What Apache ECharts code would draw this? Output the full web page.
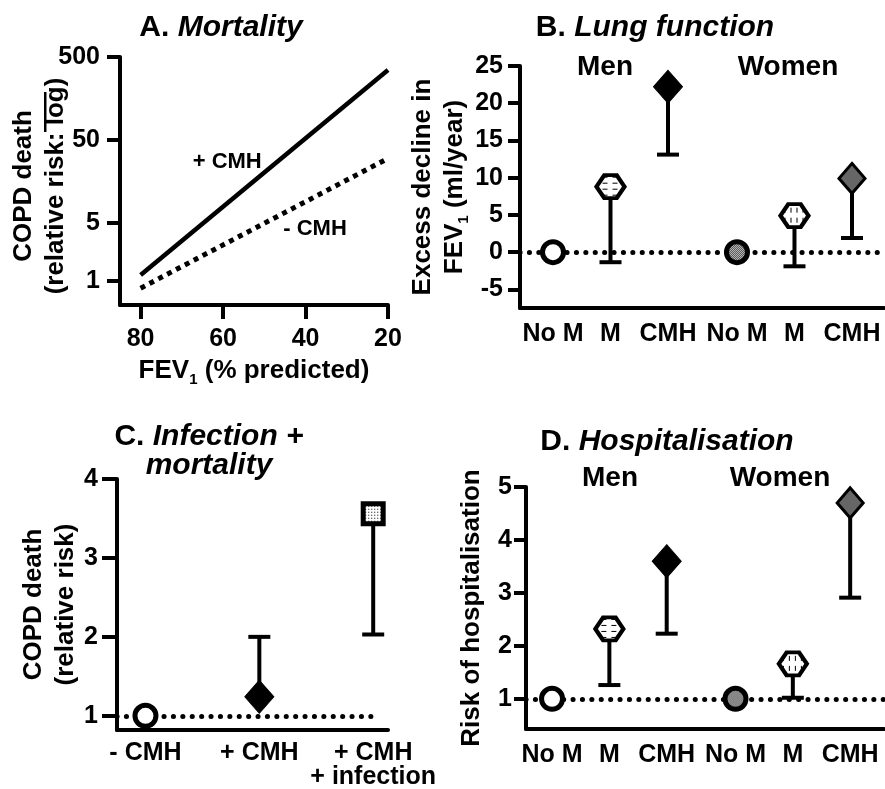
<!DOCTYPE html>
<html>
<head>
<meta charset="utf-8">
<script src="https://cdn.jsdelivr.net/npm/echarts@6/dist/echarts.min.js"></script>
<style>
  html, body { margin: 0; padding: 0; background: #fff; }
  #chart { width: 885px; height: 789px; }
</style>
</head>
<body>
<div id="chart"></div>
<script>
// A. mortality: relative risk (log) against FEV1 % predicted
var fevTicks = [80, 60, 40, 20];
var riskTicksA = [1, 5, 50, 500];
var fevEnds = [80, 20];
var withCMH = [1.18, 348];
var withoutCMH = [0.82, 30];
var lineNotes = ['+ CMH', '- CMH'];
var noteFev = [59, 37.7];
var noteRisk = [27.2, 4.24];

// B. lung function: excess FEV1 decline (ml/year)
var groupCats = ['No M', 'M', 'CMH', 'No M', 'M', 'CMH'];
var declineTicks = [-5, 0, 5, 10, 15, 20, 25];
var fevDecline = [0, 8.8, 22.2, 0, 4.9, 9.9];
var fevDeclineCI = [null, -1.35, 13.1, null, -1.9, 1.9];

// C. infection + mortality
var infectCats = ['- CMH', '+ CMH', '+ CMH\n+ infection'];
var infectTicks = [1, 2, 3, 4];
var infectRisk = [1, 1.24, 3.56];
var infectCI = [null, 2.0, 2.03];

// D. hospitalisation
var hospTicks = [1, 2, 3, 4, 5];
var hospRisk = [1, 2.32, 3.6, 1, 1.66, 4.7];
var hospCI = [null, 1.26, 2.23, null, 1.02, 2.91];

var FONT = 'Liberation Sans, Arial, sans-serif';

// men and women groups sit a little apart on the x axis
var groupGap = 0.2;
var groupPos = groupCats.map(function (c, i) { return i + (i >= 3 ? groupGap : 0); });
var infectPos = infectCats.map(function (c, i) { return i; });

// symbols are drawn at unit size and scaled up, so the fill pattern is scaled back down
function pattern(w, h, size, draw) {
    var c = document.createElement('canvas');
    c.width = w;
    c.height = h;
    var ctx = c.getContext('2d');
    ctx.fillStyle = '#fff';
    ctx.fillRect(0, 0, w, h);
    ctx.fillStyle = '#000';
    draw(ctx);
    return { image: c, repeat: 'repeat', scaleX: 2 / size[0], scaleY: 2 / size[1] };
}

var hexPath = 'path://M0,50 L28,0 L72,0 L100,50 L72,100 L28,100 Z';
var hexSize = [28, 23];
var circleSize = [21, 21];
var squareSize = [20, 20];

var hDash = pattern(10, 6, hexSize, function (ctx) { ctx.fillRect(2, 2, 5, 1); });
var vDash = pattern(6, 10, hexSize, function (ctx) { ctx.fillRect(2, 2, 1, 5); });
var greyDots = pattern(2, 2, circleSize, function (ctx) {
    ctx.fillStyle = '#ccc';
    ctx.fillRect(0, 0, 2, 2);
    ctx.fillStyle = '#444';
    ctx.fillRect(0, 0, 1, 1);
    ctx.fillRect(1, 1, 1, 1);
});
var fineDots = pattern(3, 3, squareSize, function (ctx) { ctx.fillRect(1, 1, 1, 1); });

// marker look for each of the six groups (men, women)
var groupMarks = [
    { symbol: 'circle', symbolSize: circleSize, itemStyle: { color: '#fff', borderColor: '#000', borderWidth: 5 } },
    { symbol: hexPath, symbolSize: hexSize, itemStyle: { color: hDash, borderColor: '#000', borderWidth: 4 } },
    { symbol: 'diamond', symbolSize: [29, 33], itemStyle: { color: '#000', borderColor: '#000', borderWidth: 1 } },
    { symbol: 'circle', symbolSize: circleSize, itemStyle: { color: greyDots, borderColor: '#000', borderWidth: 5 } },
    { symbol: hexPath, symbolSize: hexSize, itemStyle: { color: vDash, borderColor: '#000', borderWidth: 4 } },
    { symbol: 'diamond', symbolSize: [26, 30], itemStyle: { color: '#666', borderColor: '#000', borderWidth: 3 } }
];
var infectMarks = [groupMarks[0], groupMarks[2],
    { symbol: 'rect', symbolSize: squareSize, itemStyle: { color: fineDots, borderColor: '#000', borderWidth: 5 } }];

var tickFont = { color: '#000', fontFamily: FONT, fontWeight: 'bold', fontSize: 25 };
var nameFont = {
    color: '#000', fontFamily: FONT, fontWeight: 'bold', fontSize: 26, lineHeight: 32,
    rich: { sub: { fontFamily: FONT, fontWeight: 'bold', fontSize: 15, verticalAlign: 'bottom', padding: [10, 0, 0, 0] } }
};
var axisLine = { show: true, onZero: false, lineStyle: { color: '#000', width: 4 } };

function markData(xs, vals, marks) {
    return vals.map(function (v, i) {
        var m = marks[i];
        return {
            value: [xs[i], v], symbol: m.symbol, symbolSize: m.symbolSize,
            itemStyle: Object.assign({ opacity: 1 }, m.itemStyle)
        };
    });
}

function errorBars(xi, xs, vals, ends) {
    var data = [];
    vals.forEach(function (v, i) {
        if (ends[i] != null) data.push([xs[i], v, ends[i]]);
    });
    return {
        type: 'custom', xAxisIndex: xi, yAxisIndex: xi, z: 3, data: data,
        renderItem: function (params, api) {
            var p0 = api.coord([api.value(0), api.value(1)]);
            var p1 = api.coord([api.value(0), api.value(2)]);
            var st = { stroke: '#000', lineWidth: 4 };
            return {
                type: 'group', children: [
                    { type: 'line', shape: { x1: p0[0], y1: p0[1], x2: p1[0], y2: p1[1] }, style: st },
                    { type: 'line', shape: { x1: p1[0] - 11, y1: p1[1], x2: p1[0] + 11, y2: p1[1] }, style: st }
                ]
            };
        }
    };
}

var dotted = { color: '#000', width: 5, type: [0.1, 9.3], cap: 'round', opacity: 1 };

function refLine(data) {
    return { silent: true, symbol: 'none', label: { show: false }, lineStyle: dotted, data: data };
}

function titleText(x, y, text, size) {
    return {
        type: 'text', x: x, y: y,
        style: {
            text: text, align: 'center', verticalAlign: 'middle', fill: '#000',
            font: 'bold ' + size + 'px ' + FONT,
            rich: { i: { fontFamily: FONT, fontWeight: 'bold', fontStyle: 'italic', fontSize: size } }
        }
    };
}

function catLabels(xs, names, margin) {
    return Object.assign({
        customValues: xs, margin: margin, lineHeight: 24,
        formatter: function (v) {
            var best = 0;
            xs.forEach(function (x, i) { if (Math.abs(x - v) < Math.abs(xs[best] - v)) best = i; });
            return names[best];
        }
    }, tickFont);
}

var log10 = function (v) { return Math.log10(v); };

var myChart = echarts.init(document.getElementById('chart'));
var option = {
    animation: false,
    backgroundColor: '#fff',
    grid: [
        { left: 120, top: 57, width: 268, height: 248, outerBoundsMode: 'none' },
        { left: 520, top: 66, width: 364, height: 242, outerBoundsMode: 'none' },
        { left: 117, top: 479, width: 271, height: 251, outerBoundsMode: 'none' },
        { left: 526, top: 487, width: 358, height: 242, outerBoundsMode: 'none' }
    ],
    xAxis: [
        {
            gridIndex: 0, type: 'value', inverse: true, min: 20, max: 85,
            axisLine: axisLine, splitLine: { show: false },
            axisTick: { show: true, customValues: fevTicks, length: 14, lineStyle: { color: '#000', width: 4 } },
            axisLabel: Object.assign({ customValues: fevTicks, margin: 22 }, tickFont),
            name: 'FEV{sub|1} (% predicted)', nameLocation: 'middle', nameGap: 50,
            nameMoveOverlap: false, nameTextStyle: nameFont
        },
        {
            gridIndex: 1, type: 'value', min: -0.574, max: 5.757,
            axisLine: axisLine, splitLine: { show: false }, axisTick: { show: false },
            axisLabel: catLabels(groupPos, groupCats, 14)
        },
        {
            gridIndex: 2, type: 'value', min: -0.25, max: 2.13,
            axisLine: axisLine, splitLine: { show: false }, axisTick: { show: false },
            axisLabel: catLabels(infectPos, infectCats, 11)
        },
        {
            gridIndex: 3, type: 'value', min: -0.454, max: 5.79,
            axisLine: axisLine, splitLine: { show: false }, axisTick: { show: false },
            axisLabel: catLabels(groupPos, groupCats, 14)
        }
    ],
    yAxis: [
        {
            gridIndex: 0, type: 'value', min: -0.289, max: log10(500),
            axisLine: axisLine, splitLine: { show: false },
            axisTick: { show: true, customValues: riskTicksA.map(log10), length: 13, lineStyle: { color: '#000', width: 4 } },
            axisLabel: Object.assign({
                customValues: riskTicksA.map(log10), margin: 20,
                formatter: function (v) { return Math.round(Math.pow(10, v)); }
            }, tickFont),
            name: 'COPD death\n(relative risk: log)', nameLocation: 'middle', nameGap: 48,
            nameMoveOverlap: false, nameTextStyle: Object.assign({}, nameFont, { padding: [0, 10, 0, 0] })
        },
        {
            gridIndex: 1, type: 'value', min: -7.5, max: 25,
            axisLine: axisLine, splitLine: { show: false },
            axisTick: { show: true, customValues: declineTicks, length: 12, lineStyle: { color: '#000', width: 4 } },
            axisLabel: Object.assign({ customValues: declineTicks, margin: 17 }, tickFont),
            name: 'Excess decline in\nFEV{sub|1} (ml/year)', nameLocation: 'middle', nameGap: 49,
            nameMoveOverlap: false, nameTextStyle: nameFont
        },
        {
            gridIndex: 2, type: 'value', min: 0.82, max: 4,
            axisLine: axisLine, splitLine: { show: false },
            axisTick: { show: true, customValues: infectTicks, length: 15, lineStyle: { color: '#000', width: 4 } },
            axisLabel: Object.assign({ customValues: infectTicks, margin: 19 }, tickFont),
            name: 'COPD death\n(relative risk)', nameLocation: 'middle', nameGap: 35,
            nameMoveOverlap: false, nameTextStyle: nameFont
        },
        {
            gridIndex: 3, type: 'value', min: 0.43, max: 5,
            axisLine: axisLine, splitLine: { show: false },
            axisTick: { show: true, customValues: hospTicks, length: 12, lineStyle: { color: '#000', width: 4 } },
            axisLabel: Object.assign({ customValues: hospTicks, margin: 14 }, tickFont),
            name: 'Risk of hospitalisation', nameLocation: 'middle', nameGap: 38,
            nameMoveOverlap: false, nameTextStyle: nameFont
        }
    ],
    graphic: [
        titleText(221, 28, 'A. {i|Mortality}', 30),
        titleText(655, 28, 'B. {i|Lung function}', 30),
        titleText(605, 67, 'Men', 28),
        titleText(788, 67, 'Women', 28),
        titleText(209, 437, 'C. {i|Infection +}', 30),
        titleText(209, 466, '{i|mortality}', 30),
        titleText(667, 442, 'D. {i|Hospitalisation}', 30),
        titleText(610, 478, 'Men', 28),
        titleText(780, 478, 'Women', 28),
        // underline under "log" in the rotated axis name of panel A
        { type: 'rect', shape: { x: 44, y: 92, width: 2.5, height: 40 }, style: { fill: '#000' } }
    ],
    series: [
        {
            type: 'line', xAxisIndex: 0, yAxisIndex: 0, showSymbol: false,
            data: fevEnds.map(function (x, i) { return [x, log10(withCMH[i])]; }),
            lineStyle: { color: '#000', width: 4.5 }
        },
        {
            type: 'line', xAxisIndex: 0, yAxisIndex: 0, showSymbol: false,
            data: fevEnds.map(function (x, i) { return [x, log10(withoutCMH[i])]; }),
            lineStyle: { color: '#000', width: 5, type: [5, 5] }
        },
        {
            type: 'scatter', xAxisIndex: 0, yAxisIndex: 0, symbolSize: 1,
            itemStyle: { color: 'rgba(0,0,0,0)', opacity: 1 },
            data: lineNotes.map(function (t, i) { return { name: t, value: [noteFev[i], log10(noteRisk[i])] }; }),
            label: {
                show: true, position: 'inside', formatter: '{b}', color: '#000', opacity: 1,
                fontFamily: FONT, fontWeight: 'bold', fontSize: 22
            }
        },
        errorBars(1, groupPos, fevDecline, fevDeclineCI),
        {
            type: 'scatter', xAxisIndex: 1, yAxisIndex: 1, z: 5,
            data: markData(groupPos, fevDecline, groupMarks),
            markLine: refLine([{ yAxis: 0 }])
        },
        errorBars(2, infectPos, infectRisk, infectCI),
        {
            type: 'scatter', xAxisIndex: 2, yAxisIndex: 2, z: 5,
            data: markData(infectPos, infectRisk, infectMarks),
            markLine: refLine([[{ coord: [-0.25, 1] }, { coord: [2, 1] }]])
        },
        errorBars(3, groupPos, hospRisk, hospCI),
        {
            type: 'scatter', xAxisIndex: 3, yAxisIndex: 3, z: 5,
            data: markData(groupPos, hospRisk, groupMarks),
            markLine: refLine([{ yAxis: 1 }])
        }
    ]
};
myChart.setOption(option);
</script>
</body>
</html>
